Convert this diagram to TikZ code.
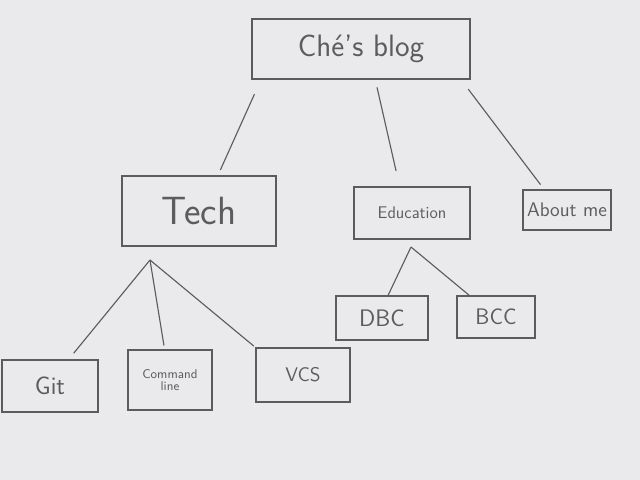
\documentclass[tikz,border=0pt]{standalone}
\usetikzlibrary{positioning}
\definecolor{pencil}{RGB}{92,92,92}
\definecolor{paper}{RGB}{234,234,236}
\newcommand{\hand}[1]{\sffamily\fontsize{#1}{#1}\selectfont}
\tikzset{
    box/.style={draw=pencil, thick, text=pencil, inner sep=2pt},
    link/.style={draw=pencil, thick}
}
\begin{document}
\begin{tikzpicture}[x=0.025cm, y=-0.025cm]
    \fill[paper] (0,0) rectangle (640,480);
    \useasboundingbox (0,0) rectangle (640,480);
    % top of the site
    \node[box, minimum width=5.45cm, minimum height=1.5cm, font=\hand{22}] (blog) at (361,49) {Ch\'e's blog};
    % sections
    \node[box, minimum width=3.85cm, minimum height=1.75cm, font=\hand{28}] (tech) at (199,211) {Tech};
    \node[box, minimum width=2.9cm, minimum height=1.3cm, font=\hand{12}] (edu) at (412,213) {Education};
    \node[box, minimum width=2.2cm, minimum height=1cm, font=\hand{14}] (about) at (567,210) {About me};
    % pages
    \node[box, minimum width=2.3cm, minimum height=1.1cm, font=\hand{17}] (dbc) at (382,318) {DBC};
    \node[box, minimum width=1.95cm, minimum height=1.05cm, font=\hand{16}] (bcc) at (496,317) {BCC};
    \node[box, minimum width=2.4cm, minimum height=1.3cm, font=\hand{18}] (git) at (50,386) {Git};
    \node[box, minimum width=2.1cm, minimum height=1.5cm, align=center, font=\hand{9}] (cmd) at (170,380) {Command\\line};
    \node[box, minimum width=2.35cm, minimum height=1.35cm, font=\hand{14}] (vcs) at (303,375) {VCS};
    \coordinate (techfork) at (150,260);
    \coordinate (edufork) at (411,247);
    \draw[link, shorten <=0.4cm, shorten >=0.15cm] (blog.197) -- (tech.62);
    \draw[link, shorten <=0.2cm, shorten >=0.4cm] (blog.295) -- (edu.115);
    \draw[link, shorten <=0.3cm, shorten >=0.15cm] (blog.343) -- (about.138);
    \draw[link, shorten >=0.2cm] (techfork) -- (git.55);
    \draw[link, shorten >=0.1cm] (techfork) -- (cmd.100);
    \draw[link, shorten >=0.05cm] (techfork) -- (vcs.north west);
    \draw[link] (edufork) -- (dbc.75);
    \draw[link] (edufork) -- (bcc.141);
\end{tikzpicture}
\end{document}
